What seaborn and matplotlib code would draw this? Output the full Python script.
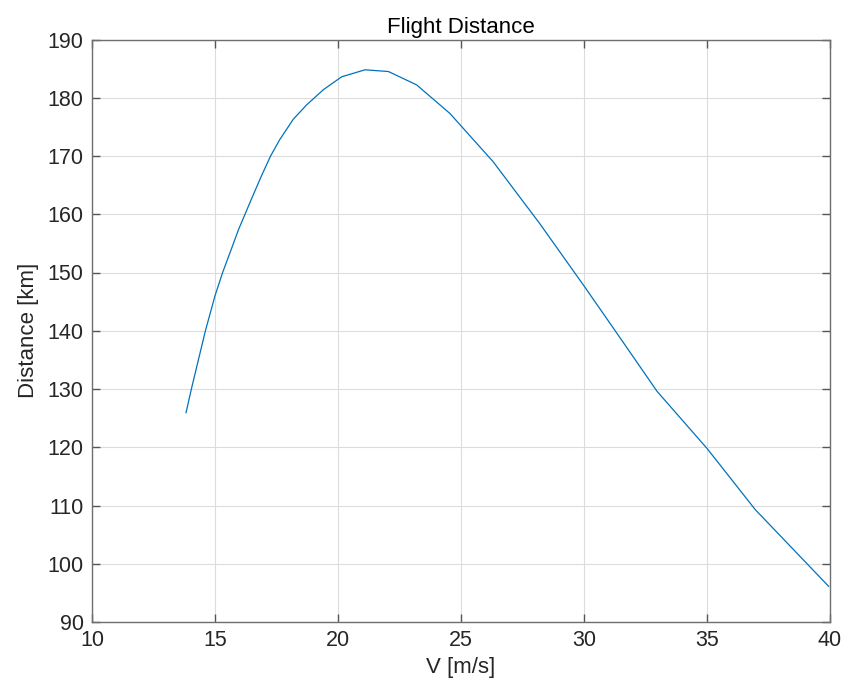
import matplotlib
matplotlib.use("Agg")
import matplotlib.pyplot as plt
import seaborn as sns
import pandas as pd

velocity = [13.82, 14.04, 14.61, 15.00, 15.31, 15.68, 15.95, 16.22, 16.49, 16.90,
            17.26, 17.63, 18.18, 18.73, 19.41, 20.15, 21.10, 22.05, 23.20, 24.55,
            26.31, 28.20, 30.00, 31.30, 32.97, 35.00, 36.96, 39.95]
distance = [125.9, 130.0, 140.0, 146.0, 150.0, 154.2, 157.3, 160.0, 162.7, 166.7,
            170.0, 172.8, 176.3, 178.8, 181.4, 183.6, 184.8, 184.5, 182.2, 177.3,
            169.0, 158.4, 147.7, 139.8, 129.6, 119.8, 109.3, 96.1]
x_ticks = [10, 15, 20, 25, 30, 35, 40]
y_ticks = [90, 100, 110, 120, 130, 140, 150, 160, 170, 180, 190]

df = pd.DataFrame({"V": velocity, "D": distance})

sns.set_theme(style="whitegrid")
plt.rcParams["font.family"] = ["Liberation Sans", "DejaVu Sans"]

fig = plt.figure(figsize=(8.46, 6.98), dpi=100)
ax = fig.add_axes([92 / 846, 1 - 622 / 698, (830 - 92) / 846, (622 - 39.5) / 698])

sns.lineplot(data=df, x="V", y="D", ax=ax, color="#0072BD", linewidth=0.9,
             sort=False, estimator=None)

ax.set_xlim(10, 40)
ax.set_ylim(90, 190)
ax.set_xticks(x_ticks)
ax.set_yticks(y_ticks)
ax.set_facecolor("white")
ax.grid(True, color="#dcdcdc", linewidth=0.8)
for s in ax.spines.values():
    s.set_visible(True)
    s.set_color("#6e6e6e")
    s.set_linewidth(1.0)
ax.tick_params(direction="in", length=6, width=1.0, color="#555555",
               top=True, right=True, bottom=True, left=True,
               labelsize=15.5, labelcolor="#262626", pad=6)
ax.set_xlabel("V [m/s]", fontsize=16, color="#262626", labelpad=4)
ax.set_ylabel("Distance [km]", fontsize=16, color="#262626", labelpad=6)
ax.set_title("Flight Distance", fontsize=16, color="#000000", pad=5)

fig.savefig("out.png", dpi=100, facecolor="white")
